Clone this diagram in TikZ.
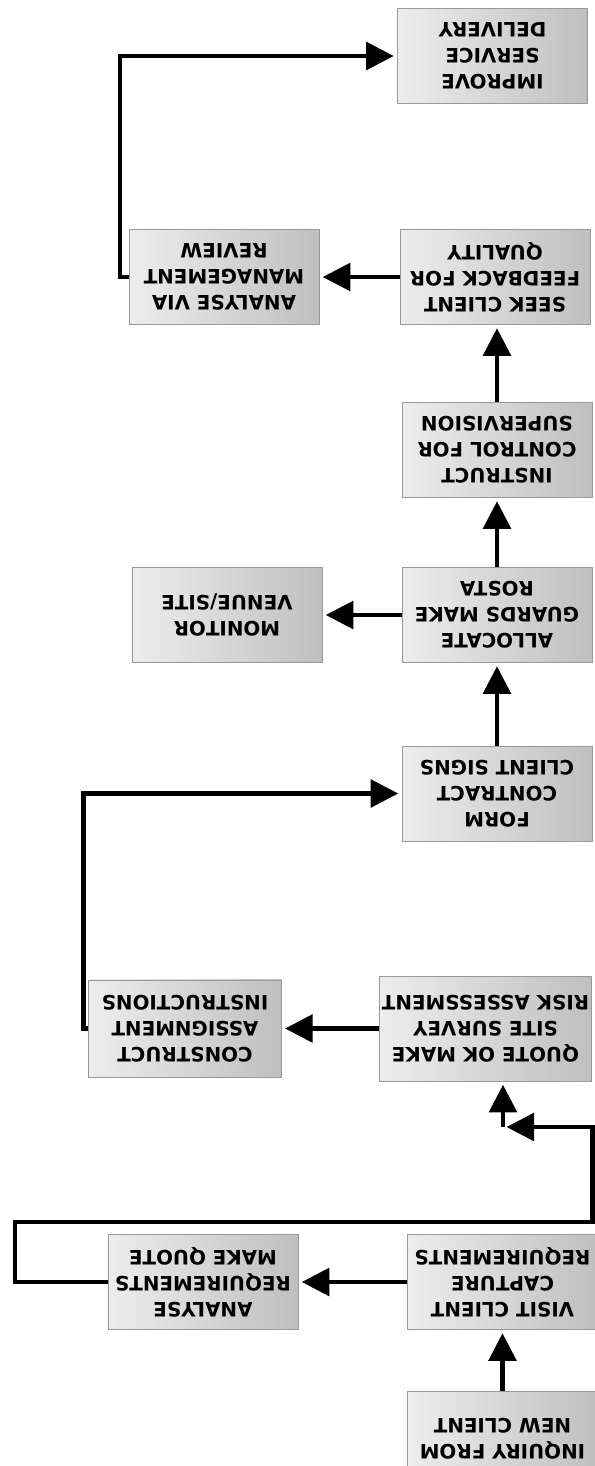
\documentclass[tikz,border=0pt]{standalone}
\usepackage{fontspec}
\setmainfont{DejaVu Sans}
\usetikzlibrary{arrows.meta}
\tikzset{
	stepbox/.style={draw=black!40, line width=0.3pt, left color=black!7, right color=black!25, minimum width=3.8cm, minimum height=1.9cm, inner sep=1pt, align=center, font=\bfseries\fontsize{11.3}{14.8}\selectfont},
	flow/.style={line width=2.3pt, -{Triangle[length=0.55cm,width=0.55cm]}, shorten >=2pt},
	link/.style={line width=2.3pt}
}

\begin{document}
\begin{tikzpicture}
		\useasboundingbox (0,-29.32) rectangle (11.9,0);
		%%%%% START %%%%%
		% the whole chart is printed upside down
		\begin{scope}[rotate around={180:(5.95,-14.66)}, transform shape]
		
		\node[stepbox] (inquiry) at (1.85, -0.55) {INQUIRY FROM\\NEW CLIENT};
		\node[stepbox] (visit) at (1.85, -3.68) {VISIT CLIENT\\CAPTURE\\REQUIREMENTS};
		\node[stepbox] (analysereq) at (7.84, -3.68) {ANALYSE\\REQUIREMENTS\\MAKE QUOTE};
		
		\node[stepbox, minimum width=4.25cm, minimum height=2.1cm] (quote) at (2.19, -8.75) {QUOTE OK MAKE\\SITE SURVEY\\RISK ASSESSMENT};
		\node[stepbox, minimum width=3.85cm, minimum height=1.95cm] (construct) at (8.2, -8.75) {CONSTRUCT\\ASSIGNMENT\\INSTRUCTIONS};
		
		\node[stepbox] (form) at (1.96, -13.45) {FORM\\CONTRACT\\CLIENT SIGNS};
		\node[stepbox] (allocate) at (1.96, -17.02) {ALLOCATE\\GUARDS MAKE\\ROSTA};
		\node[stepbox] (monitor) at (7.36, -17.02) {MONITOR\\VENUE/SITE};
		\node[stepbox] (instruct) at (1.96, -20.32) {INSTRUCT\\CONTROL FOR\\SUPERVISION};
		\node[stepbox] (seek) at (2.0, -23.78) {SEEK CLIENT\\FEEDBACK FOR\\QUALITY};
		\node[stepbox] (review) at (7.42, -23.78) {ANALYSE VIA\\MANAGEMENT\\REVIEW};
		\node[stepbox] (improve) at (2.05, -28.2) {IMPROVE\\SERVICE\\DELIVERY};
		
		\draw[flow] (inquiry) -- (visit);
		\draw[flow] (visit) -- (analysereq);
		
		% loop back to the quote
		\coordinate (loopa) at (11.6, -4.88);
		\coordinate (loopb) at (0.05, -6.78);
		\coordinate (split) at (1.84, -6.78);
		\draw[flow, line join=miter] (analysereq.east) -| (loopa) -| (loopb) -- (split);
		\draw[flow] (split) -- (split |- quote.north);
		
		\draw[flow] (quote) -- (construct);
		\draw[flow, line join=miter] (construct.east) -- ++(0.1, 0) |- (form.east);
		\draw[flow] (form) -- (allocate);
		\draw[flow] (allocate) -- (monitor);
		\draw[flow] (allocate) -- (instruct);
		\draw[flow] (instruct.south) -- (instruct.south |- seek.north);
		\draw[flow] (seek) -- (review);
		\draw[flow, line join=miter] (review.east) -- ++(0.18, 0) |- (improve.east);
		
		\end{scope}
		%%%%% END %%%%%
\end{tikzpicture}
\end{document}
